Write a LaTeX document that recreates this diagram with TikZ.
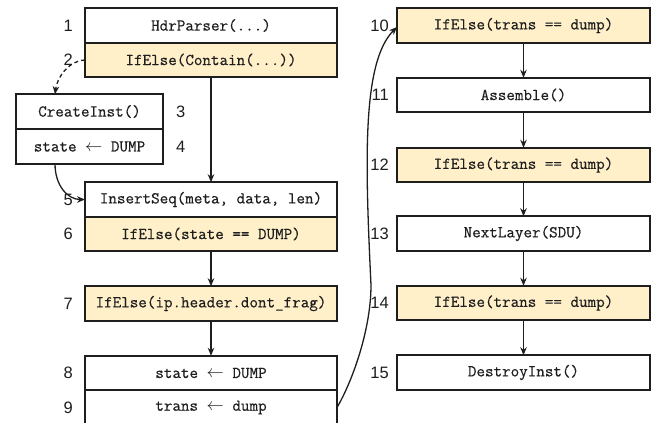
\documentclass[tikz,border=0pt]{standalone}
\usepackage{fontspec}
\newfontfamily\numfont{Liberation Sans}
\newfontfamily\codefont[FakeBold=0.5]{Latin Modern Mono}
\usetikzlibrary{arrows.meta}
\definecolor{cream}{RGB}{255,240,202}
\definecolor{ink}{RGB}{30,30,30}
\tikzset{
  box/.style={draw=ink, line width=1.6pt, minimum height=34.5pt, inner sep=0pt, outer sep=0pt,
    font=\fontsize{16.6}{20}\selectfont\codefont, text=ink},
  lbox/.style={box, minimum width=252pt},
  rbox/.style={box, minimum width=253pt},
  sbox/.style={box, minimum width=147pt},
  cond/.style={fill=cream},
  plain/.style={fill=white},
  num/.style={font=\fontsize{16.5}{20}\selectfont\numfont, text=ink, inner sep=0pt},
  arr/.style={draw=ink, line width=1.3pt, -{Stealth[length=8pt,width=6.5pt]}},
  darr/.style={arr, dash pattern=on 4pt off 3pt},
}
\begin{document}
\begin{tikzpicture}[x=1pt,y=-1pt]
\useasboundingbox (0,0) rectangle (654,423);
% left column
\node[lbox,plain] (b1) at (211,25.5) {HdrParser(...)};
\node[lbox,cond]  (b2) at (211,60) {IfElse(Contain(...))};
\node[sbox,plain] (b3) at (89.5,111.5) {CreateInst()};
\node[sbox,plain] (b4) at (89.5,146.5) {state $\leftarrow$ DUMP};
\node[lbox,plain] (b5) at (211,199.5) {InsertSeq(meta, data, len)};
\node[lbox,cond]  (b6) at (211,234) {IfElse(state == DUMP)};
\node[lbox,cond]  (b7) at (211,303.5) {IfElse(ip.header.dont\_frag)};
\node[lbox,plain] (b8) at (211,373) {state $\leftarrow$ DUMP};
\node[lbox,plain] (b9) at (211,407.5) {trans $\leftarrow$ dump};
% right column
\node[rbox,cond]  (b10) at (523.5,25.5) {IfElse(trans == dump)};
\node[rbox,plain] (b11) at (523.5,95) {Assemble()};
\node[rbox,cond]  (b12) at (523.5,165) {IfElse(trans == dump)};
\node[rbox,plain] (b13) at (523.5,233.5) {NextLayer(SDU)};
\node[rbox,cond]  (b14) at (523.5,303) {IfElse(trans == dump)};
\node[rbox,plain] (b15) at (523.5,372.5) {DestroyInst()};
% numbers
\node[num,anchor=east] (n1) at (73,25.5) {1};
\node[num,anchor=east] (n2) at (73,60) {2};
\node[num,anchor=west] (n3) at (176,111.5) {3};
\node[num,anchor=west] (n4) at (176,146.5) {4};
\node[num,anchor=east] (n5) at (73,199.5) {5};
\node[num,anchor=east] (n6) at (73,234) {6};
\node[num,anchor=east] (n7) at (73,303.5) {7};
\node[num,anchor=east] (n8) at (73,373) {8};
\node[num,anchor=east] (n9) at (73,407.5) {9};
\node[num,anchor=east] (n10) at (389,25.5) {10};
\node[num,anchor=east] (n11) at (389,95) {11};
\node[num,anchor=east] (n12) at (389,165) {12};
\node[num,anchor=east] (n13) at (389,233.5) {13};
\node[num,anchor=east] (n14) at (389,303) {14};
\node[num,anchor=east] (n15) at (389,372.5) {15};
% connectors
\draw[arr] (b2.south) -- (b5.north);
\draw[arr] (b6.south) -- (b7.north);
\draw[arr] (b7.south) -- (b8.north);
\draw[arr] (b10.south) -- (b11.north);
\draw[arr] (b11.south) -- (b12.north);
\draw[arr] (b12.south) -- (b13.north);
\draw[arr] (b13.south) -- (b14.north);
\draw[arr] (b14.south) -- (b15.north);
\draw[darr] (b2.west) .. controls (68,61) and (57,78) .. (b3.north -| 55,0);
\draw[arr] (b4.south -| 55,0) .. controls (55,186) and (68,199.5) .. (b5.west);
\coordinate (mid) at (371,285);
\draw[arr] (b9.east) .. controls (352,382) and (371,330) .. (mid)
  .. controls (365,160) and (362,62) .. ([yshift=-1.5pt]b10.west);
\end{tikzpicture}
\end{document}
